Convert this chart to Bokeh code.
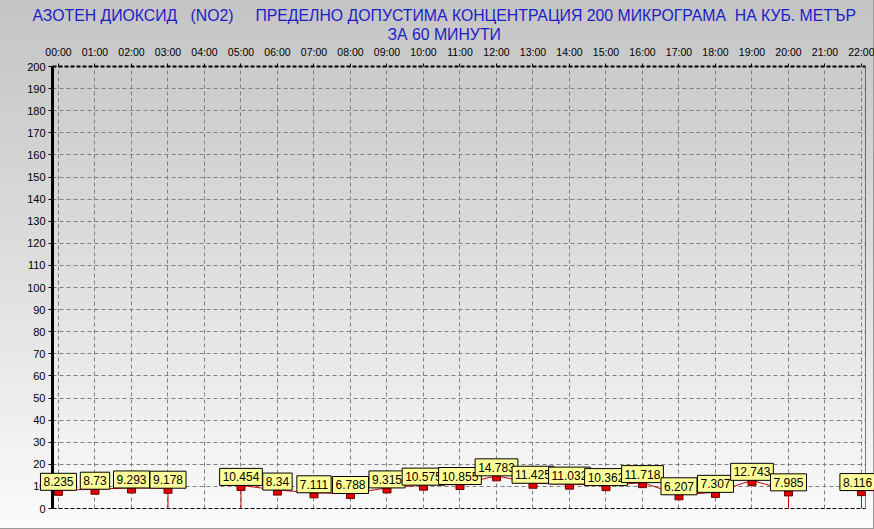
import math
from bokeh.plotting import figure
from bokeh.layouts import column
from bokeh.models import FixedTicker, Title, LinearAxis, Span
from bokeh.core.properties import value
from bokeh.embed import file_html
from bokeh.resources import INLINE

# ---- data ----
hours = list(range(23))
hour_labels = [f"{h:02d}:00" for h in hours]
no2 = [8.235, 8.73, 9.293, 9.178, None, 10.454, 8.34, 7.111, 6.788, 9.315,
       10.575, 10.855, 14.783, 11.425, 11.032, 10.362, 11.718, 6.207, 7.307,
       12.743, 7.985, None, 8.116]
y_ticks = list(range(0, 201, 10))
title_line1 = "АЗОТЕН ДИОКСИД   (NO2)     ПРЕДЕЛНО ДОПУСТИМА КОНЦЕНТРАЦИЯ 200 МИКРОГРАМА  НА КУБ. МЕТЪР"
title_line2 = "ЗА 60 МИНУТИ"

FONT = "Liberation Sans"
RED = "#d00000"
W, H = 874, 529
XMIN, XMAX = -0.164, 22.11
YMIN, YMAX = 0, 200
B_LEFT, B_RIGHT, B_TOP, B_BOTTOM = 52, 9, 66, 21
LABEL_PX = 12

p = figure(width=W, height=H, output_backend="svg", toolbar_location=None,
           x_range=(XMIN, XMAX), y_range=(YMIN, YMAX), x_axis_location="above",
           min_border_left=B_LEFT, min_border_right=B_RIGHT, min_border_top=B_TOP,
           min_border_bottom=B_BOTTOM, title=None, frame_align=False)
p.background_fill_alpha = 0
p.border_fill_alpha = 0
p.outline_line_color = None
p.styles = {"background": "linear-gradient(to bottom, #c4c4c4 0%, #dedede 50%, #fbfbfb 100%)",
            "box-shadow": "inset -1px -1px 0 #9a9a9a"}

# top (hour) axis
xa = p.xaxis[0]
xa.ticker = FixedTicker(ticks=hours)
xa.major_label_overrides = {h: lab for h, lab in zip(hours, hour_labels)}
xa.major_label_text_font = FONT
xa.major_label_text_font_size = "10.5px"
xa.major_label_text_color = "black"
xa.major_tick_out = 3
xa.major_tick_in = 0
xa.minor_tick_line_color = None
xa.major_label_standoff = 6
xa.axis_line_color = "black"
xa.axis_line_width = 2
xa.axis_line_dash = "4 2"

ya = p.yaxis[0]
ya.ticker = FixedTicker(ticks=y_ticks)
ya.major_label_text_font = FONT
ya.major_label_text_font_size = "11px"
ya.major_label_text_color = "black"
ya.major_tick_out = 4
ya.major_tick_in = 0
ya.minor_tick_line_color = None
ya.major_label_standoff = 3
ya.axis_line_color = "black"
ya.axis_line_width = 3

# bottom frame line as an axis without labels
bx = LinearAxis(ticker=FixedTicker(ticks=[]), axis_line_color="black",
                axis_line_dash="4 2", major_tick_line_color=None,
                minor_tick_line_color=None, major_label_text_font_size="0px",
                major_label_standoff=0)
p.add_layout(bx, "below")
p.add_layout(Span(location=XMAX, dimension="height", line_color="black", line_width=1))

p.xgrid.ticker = FixedTicker(ticks=hours)
p.ygrid.ticker = FixedTicker(ticks=y_ticks)
for g in (p.xgrid[0], p.ygrid[0]):
    g.grid_line_color = "#808080"
    g.grid_line_dash = "4 3"
    g.grid_line_width = 1

NB = "\u00a0"
t2 = Title(text=title_line2.replace(" ", NB), align="left", offset=335, text_font=FONT,
           text_font_size="15.8px", text_font_style="normal", text_color="#1c1cc8",
           standoff=0)
p.add_layout(t2, "above")
t1 = Title(text=title_line1.replace(" ", NB), align="left", offset=-20, text_font=FONT,
           text_font_size="15.8px", text_font_style="normal", text_color="#1c1cc8",
           standoff=0)
p.add_layout(t1, "above")

# series
ys = [v if v is not None else math.nan for v in no2]
p.line(hours, ys, line_color=RED, line_width=1)

n = len(no2)
sx, sy = [], []
for i, v in enumerate(no2):
    if v is None:
        continue
    if (i > 0 and no2[i - 1] is None) or (i < n - 1 and no2[i + 1] is None):
        sx.append(hours[i]); sy.append(v)
p.segment(x0=sx, y0=[0] * len(sx), x1=sx, y1=sy, line_color=RED, line_width=1)

px = [h for h, v in zip(hours, no2) if v is not None]
pv = [v for v in no2 if v is not None]
px_off = [v - 1.15 for v in pv]
p.rect(x=px, y=px_off, width=8, height=5, width_units="screen", height_units="screen",
       fill_color="#e00000", line_color="#700000", line_width=1)

# transparent overlay figure with the same data scale, so value boxes may
# extend over the axis area like in the original chart
kx = (W - B_LEFT - B_RIGHT) / (XMAX - XMIN)
ky = (H - B_TOP - B_BOTTOM) / (YMAX - YMIN)
p2 = figure(width=W, height=H, output_backend="svg", toolbar_location=None,
            x_range=(XMIN - B_LEFT / kx, XMAX + B_RIGHT / kx),
            y_range=(YMIN - B_BOTTOM / ky, YMAX + B_TOP / ky),
            x_axis_type=None, y_axis_type=None, min_border=0,
            min_border_left=0, min_border_right=0, min_border_top=0, min_border_bottom=0,
            frame_align=False)
p2.background_fill_alpha = 0
p2.border_fill_alpha = 0
p2.outline_line_color = None
p2.grid.visible = False
p2.styles = {"margin-top": f"-{H}px"}

# keep the value texts inside the window (only the box border may be cut)
texts = [str(v) for v in pv]
offsets = []
for h, t in zip(px, texts):
    half = 0.5 * LABEL_PX * sum(0.278 if c == "." else 0.556 for c in t)
    cx = B_LEFT + (h - XMIN) * kx
    offsets.append(-max(0.0, cx + half - (W - 2)))

p2.text(x=px, y=pv, text=texts, anchor="bottom_center", x_offset=offsets,
        text_font=value(FONT), text_font_size=f"{LABEL_PX}px", text_color="black",
        background_fill_color="#ffff99", border_line_color="black",
        border_line_width=1, padding=dict(x=3, y=4), y_offset=0)

layout = column(p, p2, spacing=0)
open("out.html", "w").write(file_html(layout, INLINE))
